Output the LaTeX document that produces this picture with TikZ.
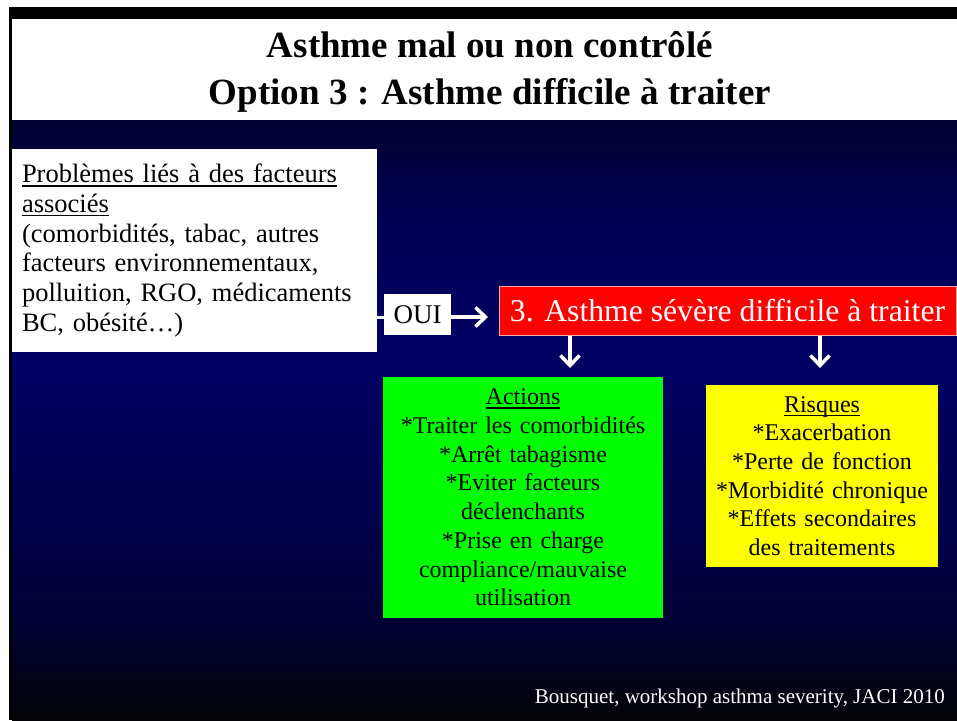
\documentclass[tikz,border=0pt]{standalone}
\usepackage{fontspec}
\setmainfont{Liberation Serif}[Ligatures=NoCommon]
\usetikzlibrary{arrows.meta}
\definecolor{bgtop}{HTML}{000030}
\definecolor{bgd}{HTML}{000055}
\definecolor{bgc}{HTML}{000064}
\definecolor{bgb}{HTML}{00004C}
\definecolor{bga}{HTML}{000034}
\definecolor{bgk}{HTML}{030306}
\definecolor{boxred}{HTML}{FF0000}
\definecolor{boxgreen}{HTML}{00FF00}
\definecolor{boxyellow}{HTML}{FFFF00}
\pgfdeclareverticalshading{slidebg}{100bp}{color(0bp)=(bgk); color(25bp)=(bgk); color(33.3bp)=(bga); color(41.7bp)=(bgb); color(55.8bp)=(bgc); color(66.7bp)=(bgd); color(75bp)=(bgtop); color(100bp)=(bgtop)}
\newcommand\myul[1]{\leavevmode\setbox0=\hbox{#1}\rlap{\rule[-4pt]{\wd0}{1.5pt}}\box0}
\newcommand\fsTitle{\fontsize{37}{47}\selectfont\bfseries}
\newcommand\fsLeft{\fontsize{26.5}{29.8}\selectfont}
\newcommand\fsBox{\fontsize{24}{28.7}\selectfont}
\begin{document}
\begin{tikzpicture}[x=1pt,y=-1pt,
  label/.style={inner sep=0pt, anchor=base},
  plainbox/.style={inner xsep=8pt, inner ysep=0pt},
  arr/.style={draw=white, line width=3.5pt, -{Straight Barb[length=10pt,width=19pt]}},
  link/.style={draw=white, line width=3pt}]
\useasboundingbox (0,0) rectangle (957,720);
\fill[white] (0,0) rectangle (957,720);
\shade[shading=slidebg] (12,120) rectangle (957,720);
\fill[black] (9,7) rectangle (957,19);
\fill[black] (9,7) rectangle (12,720);

\node[label, font=\fsTitle] (title1) at (490,57) {Asthme mal ou non contrôlé};
\node[label, font=\fsTitle] (title2) at (490,104) {Option 3 : Asthme difficile à traiter};

\node[plainbox, fill=white, minimum width=365pt, minimum height=203pt, text width=345pt, inner xsep=10pt, align=left, font=\fsLeft] (left) at (194.5,250.5)
  {\myul{Problèmes liés à des facteurs}\\ \myul{associés}\\ (comorbidités, tabac, autres\\ facteurs environnementaux,\\ polluition, RGO, médicaments\\ BC, obésité…)};

\node[plainbox, fill=white, minimum width=67pt, minimum height=41pt, font=\fontsize{27}{30}\selectfont] (oui) at (417.5,314.5) {OUI};

\node[plainbox, fill=boxred, draw=red!35!white, line width=1pt, minimum width=457pt, minimum height=49pt, text=white, font=\fontsize{31.7}{36}\selectfont] (red) at (727.5,310.5) {3. Asthme sévère difficile à traiter};

\node[plainbox, fill=boxgreen, minimum width=280pt, minimum height=241pt, text width=270pt, inner xsep=5pt, align=center, font=\fsBox] (actions) at (523,497.5)
  {\myul{Actions}\\ {*}Traiter les comorbidités\\ {*}Arrêt tabagisme\\ {*}Eviter facteurs\\ déclenchants\\ {*}Prise en charge\\ compliance/mauvaise\\ utilisation};

\node[plainbox, fill=boxyellow, minimum width=232pt, minimum height=182pt, text width=226pt, inner xsep=3pt, align=center, font=\fsBox] (risques) at (822,476)
  {\myul{Risques}\\ {*}Exacerbation\\ {*}Perte de fonction\\ {*}Morbidité chronique\\ {*}Effets secondaires\\ des traitements};

\node[label, anchor=base east, text=white, font=\fontsize{21}{24}\selectfont] (ref) at (945,703) {Bousquet, workshop asthma severity, JACI 2010};

\coordinate (d1) at (570,368);
\coordinate (d2) at (820,368);
\coordinate (h1) at (488,317);

\draw[link] (oui.west |- h1) -- (left.east |- h1);
\draw[arr] (oui.east |- h1) -- (h1);
\draw[arr] (d1 |- red.south) -- (d1);
\draw[arr] (d2 |- red.south) -- (d2);
\end{tikzpicture}
\end{document}
